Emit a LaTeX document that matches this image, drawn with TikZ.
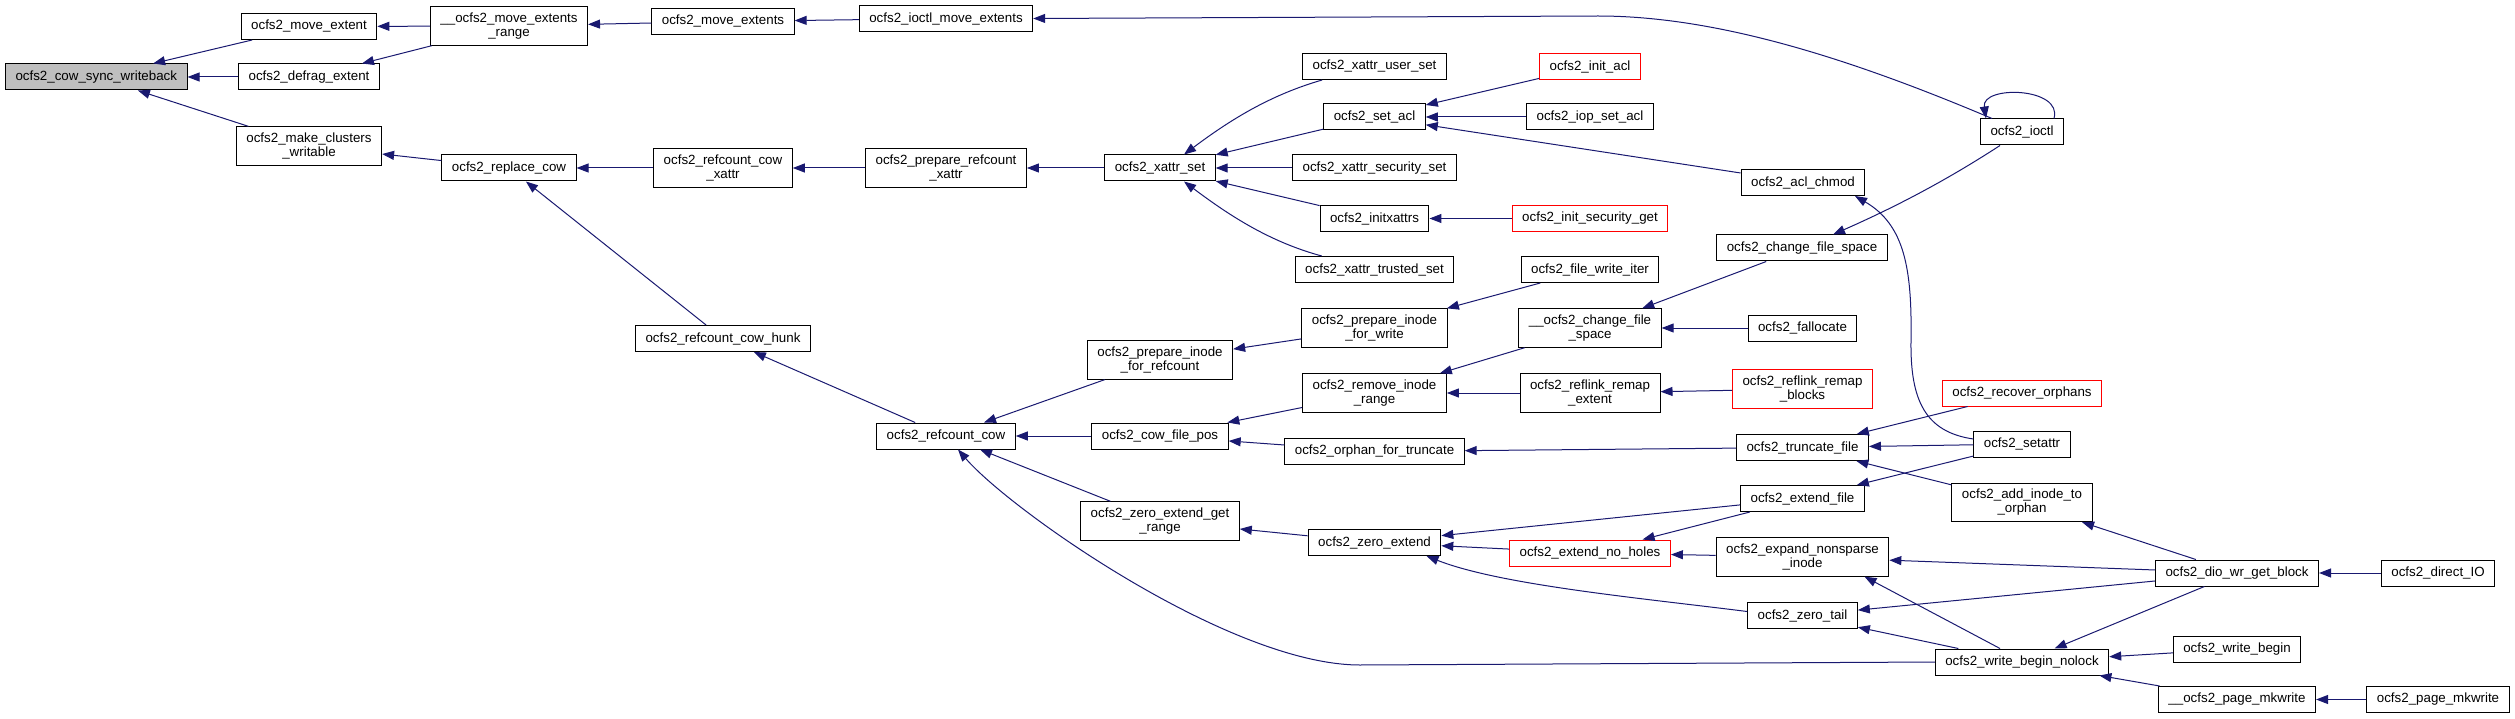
\documentclass[tikz,border=0pt]{standalone}
\usepackage{fontspec}
\setmainfont{Liberation Sans}
\usetikzlibrary{arrows.meta}

\begin{document}
\begin{tikzpicture}[x=1pt,y=-1pt,
        fn/.style={draw=black,fill=white,line width=1pt,inner xsep=10pt,inner ysep=6pt,
            minimum height=26pt,align=center,font=\fontsize{13.33}{14}\selectfont},
        redfn/.style={fn,draw=funcred},
        curfn/.style={fn,fill=curgray},
        edge/.style={draw=edgeblue,line width=1pt,-{Triangle[length=12pt,width=9pt]}}]
        \definecolor{edgeblue}{RGB}{25,25,112}
        \definecolor{funcred}{RGB}{255,0,0}
        \definecolor{curgray}{RGB}{191,191,191}

        \useasboundingbox (0,0) rectangle (2515,719);

        % functions, column by column
        \node[curfn] (cow) at (96.3,77) {ocfs2\_cow\_sync\_writeback};

        \node[fn] (mext) at (309,26.5) {ocfs2\_move\_extent};
        \node[fn] (defrag) at (309,77) {ocfs2\_defrag\_extent};
        \node[fn] (mkclus) at (309,146) {ocfs2\_make\_clusters\\\_writable};

        \node[fn] (mrange) at (509,26) {\_\_ocfs2\_move\_extents\\\_range};
        \node[fn] (replace) at (509,168) {ocfs2\_replace\_cow};

        \node[fn] (mexts) at (723,21.5) {ocfs2\_move\_extents};
        \node[fn] (rcxattr) at (723,168) {ocfs2\_refcount\_cow\\\_xattr};
        \node[fn] (hunk) at (723,338.5) {ocfs2\_refcount\_cow\_hunk};

        \node[fn] (ioctlme) at (946,18.5) {ocfs2\_ioctl\_move\_extents};
        \node[fn] (prepxattr) at (946,168) {ocfs2\_prepare\_refcount\\\_xattr};
        \node[fn] (rcow) at (946,436) {ocfs2\_refcount\_cow};

        \node[fn] (xset) at (1160,168) {ocfs2\_xattr\_set};
        \node[fn] (preprc) at (1160,360) {ocfs2\_prepare\_inode\\\_for\_refcount};
        \node[fn] (cowpos) at (1160,436) {ocfs2\_cow\_file\_pos};
        \node[fn] (zgr) at (1160,521) {ocfs2\_zero\_extend\_get\\\_range};

        \node[fn] (userset) at (1374.5,66.5) {ocfs2\_xattr\_user\_set};
        \node[fn] (setacl) at (1374.5,117) {ocfs2\_set\_acl};
        \node[fn] (secset) at (1374.5,168) {ocfs2\_xattr\_security\_set};
        \node[fn] (initx) at (1374.5,218.5) {ocfs2\_initxattrs};
        \node[fn] (trustset) at (1374.5,269.5) {ocfs2\_xattr\_trusted\_set};
        \node[fn] (prepw) at (1374.5,328) {ocfs2\_prepare\_inode\\\_for\_write};
        \node[fn] (rmrange) at (1374.5,393) {ocfs2\_remove\_inode\\\_range};
        \node[fn] (orphtr) at (1374.5,451.5) {ocfs2\_orphan\_for\_truncate};
        \node[fn] (zext) at (1374.5,542.5) {ocfs2\_zero\_extend};

        \node[redfn] (initacl) at (1590,66.5) {ocfs2\_init\_acl};
        \node[fn] (iopacl) at (1590,117) {ocfs2\_iop\_set\_acl};
        \node[redfn] (secget) at (1590,218.5) {ocfs2\_init\_security\_get};
        \node[fn] (fwi) at (1590,269.5) {ocfs2\_file\_write\_iter};
        \node[fn] (ucfs) at (1590,328) {\_\_ocfs2\_change\_file\\\_space};
        \node[fn] (rrext) at (1590,393) {ocfs2\_reflink\_remap\\\_extent};
        \node[redfn] (nohole) at (1590,553) {ocfs2\_extend\_no\_holes};

        \node[fn] (chmod) at (1803,182.5) {ocfs2\_acl\_chmod};
        \node[fn] (cfs) at (1802,248) {ocfs2\_change\_file\_space};
        \node[fn] (falloc) at (1802.5,328) {ocfs2\_fallocate};
        \node[redfn] (rrblk) at (1802.5,389) {ocfs2\_reflink\_remap\\\_blocks};
        \node[fn] (trunc) at (1802.5,447.5) {ocfs2\_truncate\_file};
        \node[fn] (extf) at (1802.5,498.5) {ocfs2\_extend\_file};
        \node[fn] (expand) at (1802.5,557) {ocfs2\_expand\_nonsparse\\\_inode};
        \node[fn] (ztail) at (1802.5,615.5) {ocfs2\_zero\_tail};

        \node[fn] (ioctl) at (2022,132) {ocfs2\_ioctl};
        \node[redfn] (recorph) at (2022,393) {ocfs2\_recover\_orphans};
        \node[fn] (setattr) at (2022,444) {ocfs2\_setattr};
        \node[fn] (addorph) at (2022,502.5) {ocfs2\_add\_inode\_to\\\_orphan};
        \node[fn] (wbn) at (2022,662) {ocfs2\_write\_begin\_nolock};

        \node[fn] (dio) at (2237,573) {ocfs2\_dio\_wr\_get\_block};
        \node[fn] (wbegin) at (2237,649) {ocfs2\_write\_begin};
        \node[fn] (upmk) at (2237,699.5) {\_\_ocfs2\_page\_mkwrite};

        \node[fn] (dirio) at (2438,573) {ocfs2\_direct\_IO};
        \node[fn] (pmk) at (2438,699.5) {ocfs2\_page\_mkwrite};

        % straight calls (caller/callee)
        \foreach \a/\b in {mext/cow,defrag/cow,mkclus/cow,mrange/mext,mrange/defrag,
                mexts/mrange,ioctlme/mexts,replace/mkclus,rcxattr/replace,hunk/replace,
                prepxattr/rcxattr,xset/prepxattr,setacl/xset,secset/xset,initx/xset,
                initacl/setacl,iopacl/setacl,chmod/setacl,secget/initx,cfs/ucfs,
                falloc/ucfs,fwi/prepw,prepw/preprc,ucfs/rmrange,rrext/rmrange,
                rrblk/rrext,rmrange/cowpos,orphtr/cowpos,preprc/rcow,cowpos/rcow,
                zgr/rcow,rcow/hunk,zext/zgr,trunc/orphtr,extf/zext,nohole/zext,
                extf/nohole,expand/nohole,recorph/trunc,setattr/trunc,addorph/trunc,
                setattr/extf,dio/addorph,dio/expand,dio/ztail,dirio/dio,wbn/ztail,
                dio/wbn,wbegin/wbn,upmk/wbn,pmk/upmk}
            \draw[edge] (\a) -- (\b);

        % curved calls
        \draw[edge] ([xshift=20pt]userset.south west)
            .. controls (1270,95) and (1230,120) .. ([xshift=24pt]xset.north);
        \draw[edge] ([xshift=27pt]trustset.north west)
            .. controls (1270,242) and (1230,216) .. ([xshift=24pt]xset.south);
        \draw[edge] ([xshift=12pt]ioctl.north west)
            .. controls (1856,61) and (1720,16) .. (1598,16) -- (ioctlme.east);
        \draw[edge] ([xshift=-10pt]ioctl.north east)
            .. controls (2063,87) and (1981,85) .. ([xshift=6pt]ioctl.north west);
        \draw[edge] ([xshift=-22pt]ioctl.south)
            .. controls (1950,178) and (1900,205) .. ([xshift=31pt]cfs.north);
        \draw[edge] ([yshift=5pt]setattr.west)
            .. controls (1925,432) and (1910,400) .. (1911,340)
            .. controls (1912,270) and (1905,225) .. ([xshift=52pt]chmod.south);
        \draw[edge] ([yshift=4pt]ztail.west)
            .. controls (1640,598) and (1500,585) .. ([xshift=52pt]zext.south);
        \draw[edge] (wbn.west) -- (1360,665)
            .. controls (1230,665) and (1010,510) .. ([xshift=12pt]rcow.south);
        \draw[edge] ([xshift=-22pt]wbn.north) -- ([xshift=62pt]expand.south);
    \end{tikzpicture}
\end{document}
